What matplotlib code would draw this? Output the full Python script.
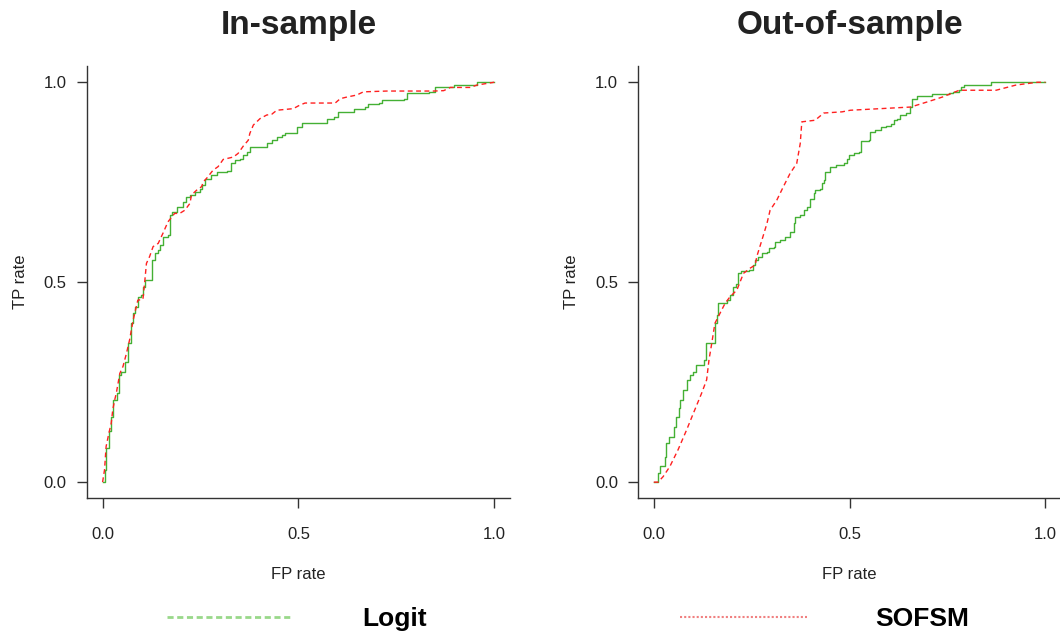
import matplotlib
matplotlib.use("Agg")
import matplotlib.pyplot as plt
from matplotlib.lines import Line2D

plt.rcParams['font.family'] = ['Liberation Sans', 'DejaVu Sans']

# ROC points
in_logit_fp = [0, 0.005, 0.009, 0.009, 0.016, 0.022, 0.026, 0.037, 0.041, 0.048, 0.056, 0.065,
               0.073, 0.078, 0.082, 0.090, 0.099, 0.103, 0.108, 0.116, 0.125, 0.133, 0.142, 0.146,
               0.154, 0.167, 0.172, 0.176, 0.189, 0.197, 0.206, 0.214, 0.223, 0.235, 0.248, 0.253,
               0.261, 0.270, 0.278, 0.291, 0.317, 0.329, 0.338, 0.351, 0.359, 0.368, 0.376, 0.410,
               0.419, 0.432, 0.445, 0.457, 0.466, 0.496, 0.496, 0.509, 0.555, 0.573, 0.590, 0.602,
               0.632, 0.641, 0.671, 0.679, 0.705, 0.713, 0.769, 0.777, 0.833, 0.850, 0.888, 0.897,
               0.956, 0.956, 1.0]
in_logit_tp = [0, 0.031, 0.060, 0.085, 0.127, 0.164, 0.206, 0.222, 0.268, 0.276, 0.301, 0.347,
               0.397, 0.422, 0.439, 0.464, 0.468, 0.489, 0.505, 0.505, 0.555, 0.572, 0.580, 0.593,
               0.614, 0.618, 0.668, 0.676, 0.689, 0.689, 0.701, 0.714, 0.718, 0.726, 0.734, 0.743,
               0.759, 0.759, 0.768, 0.776, 0.779, 0.797, 0.805, 0.807, 0.818, 0.826, 0.837, 0.838,
               0.847, 0.855, 0.862, 0.868, 0.873, 0.873, 0.888, 0.897, 0.897, 0.909, 0.913, 0.926,
               0.926, 0.932, 0.937, 0.945, 0.948, 0.955, 0.959, 0.974, 0.976, 0.987, 0.988, 0.994,
               0.994, 1.0, 1.0]

in_sofsm_fp = [0, 0.005, 0.009, 0.016, 0.022, 0.026, 0.031, 0.035, 0.044, 0.052, 0.061, 0.069,
               0.078, 0.082, 0.090, 0.103, 0.108, 0.112, 0.120, 0.129, 0.142, 0.154, 0.167, 0.184,
               0.197, 0.210, 0.223, 0.227, 0.240, 0.253, 0.257, 0.265, 0.282, 0.295, 0.308, 0.334,
               0.346, 0.359, 0.372, 0.376, 0.385, 0.402, 0.419, 0.432, 0.445, 0.487, 0.504, 0.517,
               0.594, 0.607, 0.624, 0.649, 0.666, 0.726, 0.794, 0.846, 0.871, 0.888, 0.939, 0.956,
               1.0]
in_sofsm_tp = [0, 0.031, 0.089, 0.122, 0.147, 0.181, 0.206, 0.222, 0.272, 0.289, 0.322, 0.356,
               0.405, 0.422, 0.455, 0.457, 0.505, 0.547, 0.564, 0.589, 0.597, 0.622, 0.651, 0.672,
               0.672, 0.680, 0.697, 0.718, 0.730, 0.739, 0.751, 0.759, 0.780, 0.789, 0.807, 0.813,
               0.822, 0.840, 0.855, 0.872, 0.893, 0.909, 0.918, 0.920, 0.930, 0.934, 0.943, 0.948,
               0.948, 0.959, 0.963, 0.968, 0.976, 0.978, 0.978, 0.978, 0.979, 0.987, 0.987, 0.993,
               1.0]

out_logit_fp = [0, 0.009, 0.011, 0.015, 0.026, 0.028, 0.032, 0.039, 0.050, 0.051, 0.058, 0.065,
                0.068, 0.075, 0.084, 0.085, 0.092, 0.101, 0.109, 0.122, 0.128, 0.133, 0.152, 0.156,
                0.161, 0.165, 0.186, 0.195, 0.203, 0.210, 0.216, 0.222, 0.242, 0.254, 0.259, 0.267,
                0.276, 0.289, 0.293, 0.306, 0.310, 0.323, 0.336, 0.348, 0.357, 0.361, 0.374, 0.383,
                0.391, 0.400, 0.408, 0.412, 0.425, 0.430, 0.434, 0.438, 0.449, 0.466, 0.485, 0.494,
                0.498, 0.511, 0.523, 0.528, 0.549, 0.553, 0.566, 0.579, 0.592, 0.605, 0.613, 0.622,
                0.630, 0.643, 0.654, 0.660, 0.673, 0.711, 0.754, 0.763, 0.780, 0.784, 0.792, 0.861,
                0.861, 1.0]
out_logit_tp = [0, 0, 0.022, 0.041, 0.041, 0.064, 0.097, 0.114, 0.114, 0.139, 0.164, 0.185,
                0.206, 0.231, 0.231, 0.256, 0.268, 0.276, 0.293, 0.293, 0.306, 0.347, 0.347, 0.397,
                0.418, 0.447, 0.455, 0.468, 0.489, 0.495, 0.522, 0.529, 0.530, 0.543, 0.555, 0.564,
                0.572, 0.576, 0.585, 0.589, 0.601, 0.605, 0.614, 0.626, 0.647, 0.664, 0.668, 0.680,
                0.689, 0.707, 0.722, 0.730, 0.734, 0.747, 0.755, 0.776, 0.789, 0.793, 0.797, 0.809,
                0.818, 0.822, 0.826, 0.853, 0.855, 0.876, 0.880, 0.888, 0.890, 0.895, 0.905, 0.909,
                0.918, 0.922, 0.938, 0.959, 0.965, 0.970, 0.972, 0.976, 0.980, 0.988, 0.993, 0.997,
                1.0, 1.0]

out_sofsm_fp = [0, 0.011, 0.024, 0.041, 0.062, 0.084, 0.101, 0.122, 0.135, 0.141, 0.148, 0.156,
                0.169, 0.182, 0.195, 0.212, 0.229, 0.246, 0.259, 0.263, 0.276, 0.289, 0.297, 0.314,
                0.331, 0.348, 0.365, 0.374, 0.378, 0.412, 0.434, 0.481, 0.502, 0.656, 0.699, 0.737,
                0.780, 0.874, 0.925, 0.980, 1.0]
out_sofsm_tp = [0, 0, 0.014, 0.039, 0.081, 0.131, 0.172, 0.222, 0.256, 0.306, 0.347, 0.397,
                0.422, 0.447, 0.464, 0.480, 0.522, 0.535, 0.543, 0.564, 0.605, 0.647, 0.680, 0.705,
                0.739, 0.772, 0.797, 0.847, 0.901, 0.905, 0.923, 0.926, 0.930, 0.938, 0.951, 0.963,
                0.980, 0.980, 0.993, 1.0, 1.0]

titles = ["In-sample", "Out-of-sample"]
ticks = [0.0, 0.5, 1.0]
tick_labels = ["0.0", "0.5", "1.0"]

green = '#44b034'
red = '#ff2020'
axcol = '#333333'

fig = plt.figure(figsize=(10.6, 6.37), dpi=100)
ax1 = fig.add_axes([0.082, 0.218, 0.399, 0.678])
ax2 = fig.add_axes([0.602, 0.218, 0.399, 0.678])

panels = [(ax1, in_logit_fp, in_logit_tp, in_sofsm_fp, in_sofsm_tp),
          (ax2, out_logit_fp, out_logit_tp, out_sofsm_fp, out_sofsm_tp)]

for (ax, lfp, ltp, sfp, stp), title in zip(panels, titles):
    ax.plot(lfp, ltp, color=green, lw=1.0, drawstyle='steps-post')
    ax.plot(sfp, stp, color=red, lw=1.0, linestyle=(0, (3.5, 2.5)))
    ax.set_xlim(-0.04, 1.04)
    ax.set_ylim(-0.04, 1.04)
    for s in ['top', 'right']:
        ax.spines[s].set_visible(False)
    for s in ['left', 'bottom']:
        ax.spines[s].set_color(axcol)
        ax.spines[s].set_linewidth(1.0)
    ax.set_xticks(ticks)
    ax.set_xticklabels(tick_labels)
    ax.set_yticks(ticks)
    ax.set_yticklabels(tick_labels)
    ax.tick_params(axis='both', direction='out', length=7.5, width=1.0, color=axcol,
                   labelsize=12, labelcolor='#222222')
    ax.tick_params(axis='x', pad=13)
    ax.tick_params(axis='y', pad=7)
    ax.text(0.5, -0.176, "FP rate", transform=ax.transAxes, ha='center', va='center',
            fontsize=12, color='#222222')
    ax.text(-0.158, 0.5, "TP rate", transform=ax.transAxes, ha='center', va='center',
            rotation=90, fontsize=12, color='#222222')
    ax.text(0.5, 1.095, title, transform=ax.transAxes, ha='center', va='center',
            fontsize=24, fontweight='bold', color='#222222')

handles = [Line2D([], [], color='#99d88a', lw=2.0, linestyle=(0, (2.2, 1.3))),
           Line2D([], [], color='#f08080', lw=1.5, linestyle=(0, (1, 1)))]
fig.legend(handles, ["Logit", "SOFSM"], loc='center', bbox_to_anchor=(568 / 1060, 1 - 619 / 637),
           ncol=2, frameon=False, handlelength=4.8, handletextpad=2.6, columnspacing=9.6,
           prop={'size': 19, 'weight': 'bold'})

fig.savefig("out.png", dpi=100)
